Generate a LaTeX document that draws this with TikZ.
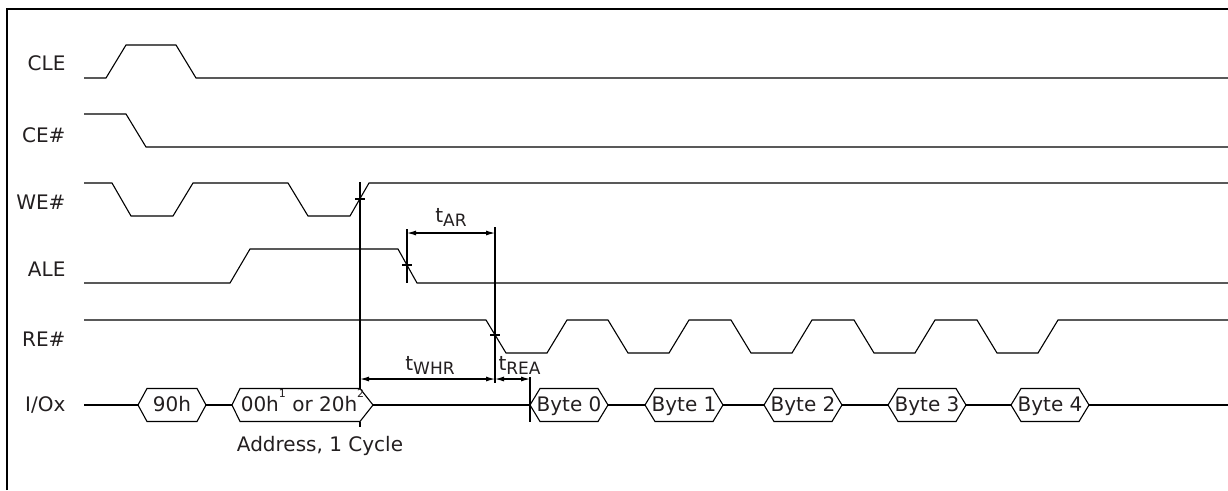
\documentclass[tikz,border=0pt]{standalone}
\usepackage{fontspec}
\setmainfont{DejaVu Sans}
\usetikzlibrary{arrows.meta}

\definecolor{ink}{RGB}{35,31,32}
\newcommand\tsub[1]{t\raisebox{-4pt}{\fontsize{17}{17}\selectfont #1}}
\newcommand\supnum[1]{\raisebox{14pt}{\fontsize{11}{11}\selectfont #1}}
% name, left tip, right tip, left slant, right slant, text
\newcommand\busval[6]{%
  \draw[wave] (#2,405) -- (#2+#4,388.5) -- (#3-#5,388.5) -- (#3,405)
    -- (#3-#5,421.5) -- (#2+#4,421.5) -- cycle;
  \coordinate (#1-w) at (#2,405);
  \coordinate (#1-e) at (#3,405);
  \node[val] (#1) at ({(#2+#3)/2},411) {#6};}

\begin{document}
\begin{tikzpicture}[x=1pt, y=-1pt, line width=1.1pt,
  every node/.style = {font=\fontsize{20}{24}\selectfont, text=ink, inner sep=0pt},
  wave/.style = {draw=black, line join=miter},
  signame/.style = {anchor=base east},
  val/.style = {anchor=base},
  guide/.style = {draw=black},
  dim/.style = {{Latex[length=9pt,width=5pt]}-{Latex[length=9pt,width=5pt]}}]
  \useasboundingbox (0,0) rectangle (1228,490);
  \draw[line width=2pt] (7,490) -- (7,9) -- (1228,9);

  % signal names
  \node[signame] (cle) at (66,70) {CLE};
  \node[signame] (ce) at (66,142) {CE\#};
  \node[signame] (we) at (66,209) {WE\#};
  \node[signame] (ale) at (66,276) {ALE};
  \node[signame] (re) at (66,346) {RE\#};
  \node[signame] (io) at (66,411) {I/Ox};

  % waveforms
  \draw[wave] (84,78) -- (106,78) -- (126,45) -- (176,45) -- (196,78) -- (1228,78);
  \draw[wave] (84,114) -- (126,114) -- (146,147) -- (1228,147);
  \draw[wave] (84,183) -- (112,183) -- (131,216) -- (173,216) -- (193,183)
    -- (288,183) -- (308,216) -- (350,216) -- (369,183) -- (1228,183);
  \draw[wave] (84,283) -- (230,283) -- (250,249) -- (398,249) -- (417,283) -- (1228,283);
  \draw[wave] (84,320) foreach \s in {486,608,731,854,977}
    { -- (\s,320) -- (\s+20,353) -- (\s+61,353) -- (\s+81,320) } -- (1228,320);

  % data bus
  \coordinate (io-start) at (84,405);
  \coordinate (io-end) at (1228,405);
  \busval{cmd}{138}{206}{9}{9}{90h}
  \busval{addr}{232}{373}{8}{13}{00h\supnum{1} or 20h\supnum{2}}
  \foreach \n/\l in {0/530,1/645,2/764,3/888,4/1011}
    \busval{b\n}{\l}{\l+78}{10}{10}{Byte \n};
  \draw[wave] (io-start) -- (cmd-w) (cmd-e) -- (addr-w) (addr-e) -- (b0-w);
  \foreach \a/\b in {b0/b1,b1/b2,b2/b3,b3/b4}
    \draw[wave] (\a-e) -- (\b-w);
  \draw[wave] (b4-e) -- (io-end);
  \node[val] (addrnote) at (320,451) {Address, 1 Cycle};

  % timing references
  \coordinate (we-x) at (360,199);
  \coordinate (ale-x) at (407,265);
  \coordinate (re-x) at (495,335);
  \draw[guide] (we-x |- 0,182) -- (we-x |- 0,388.5) (we-x |- 0,421.5) -- (we-x |- 0,427);
  \draw[guide] (ale-x |- 0,229) -- (ale-x |- 0,283);
  \draw[guide] (re-x |- 0,227) -- (re-x |- 0,383);
  \draw[guide] (b0-w |- 0,377) -- (b0-w |- 0,421.5);
  \foreach \c in {we-x,ale-x,re-x}
    \draw[guide] (\c) ++(-5,0) -- ++(10,0);

  \draw[dim] (ale-x |- 0,233) -- (re-x |- 0,233);
  \draw[dim] (we-x |- 0,379) -- (re-x |- 0,379);
  \draw[dim] (re-x |- 0,379) -- (b0-w |- 0,379);
  \node[anchor=base] (tar) at (451,222) {\tsub{AR}};
  \node[anchor=base] (twhr) at (430,370) {\tsub{WHR}};
  \node[anchor=base west] (trea) at (498,370) {\tsub{REA}};
\end{tikzpicture}
\end{document}
